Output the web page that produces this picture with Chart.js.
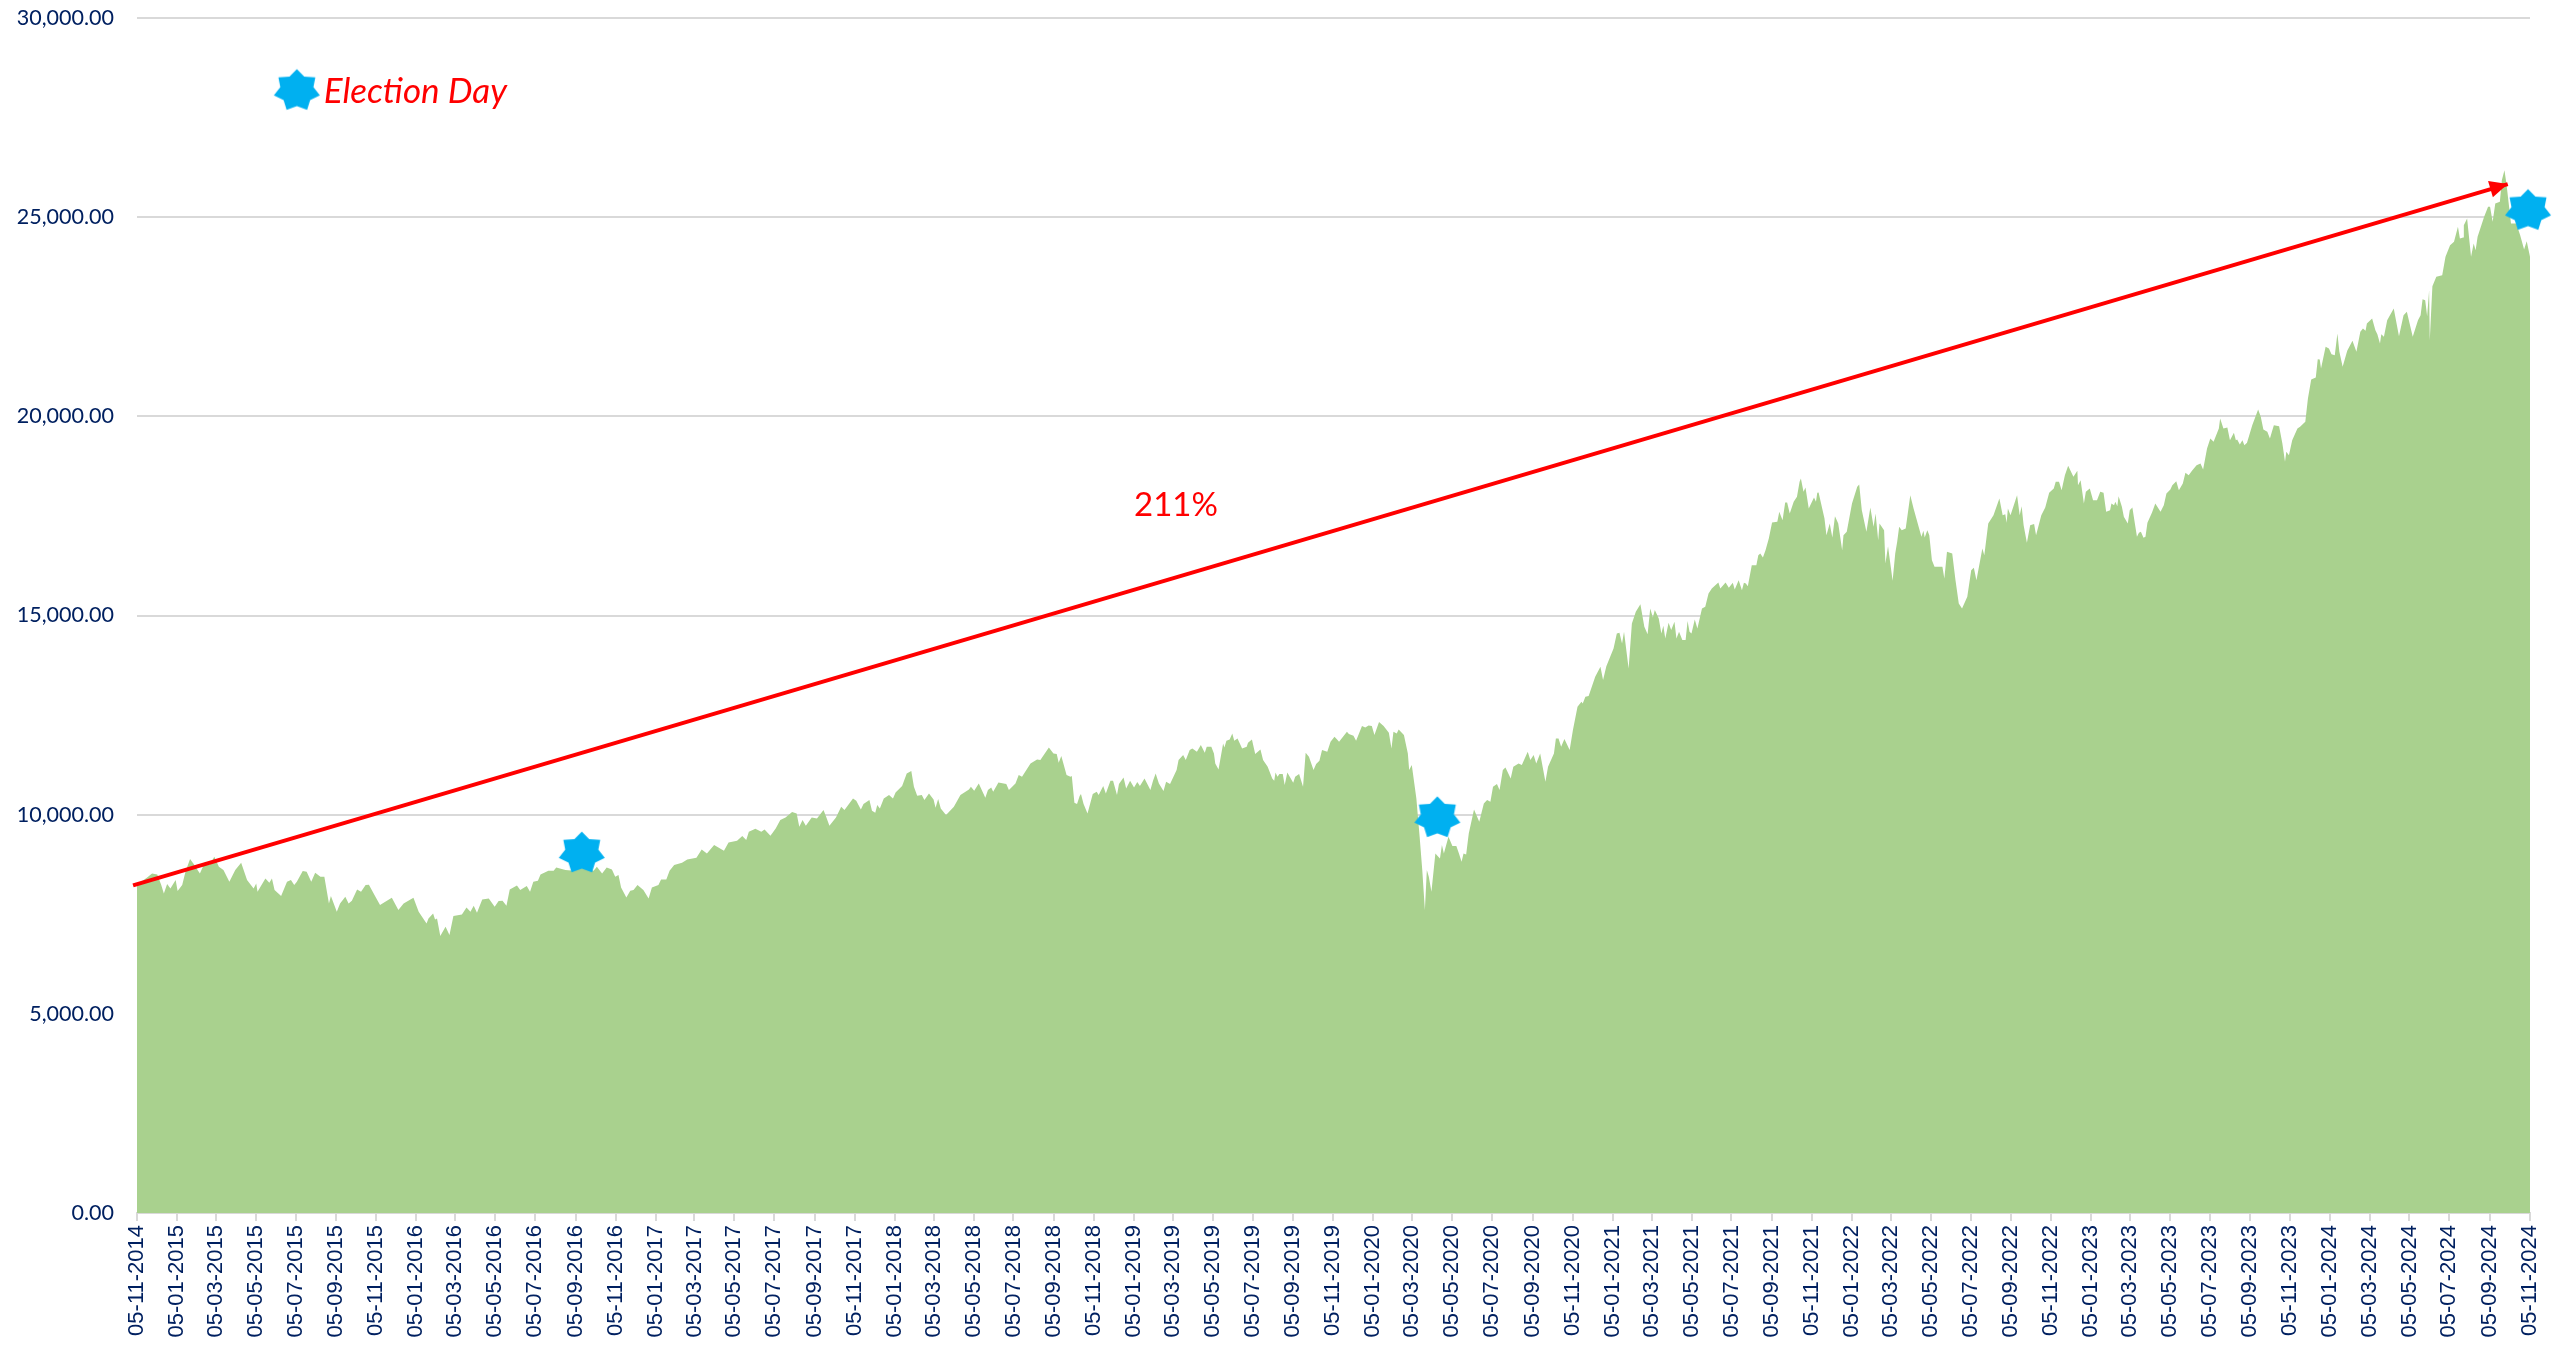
<!DOCTYPE html>
<html>
<head>
<meta charset="utf-8">
<style>html,body{margin:0;padding:0;background:#fff}canvas{display:block}</style>
<script src="https://cdn.jsdelivr.net/npm/chart.js@4/dist/chart.umd.min.js"></script>
</head>
<body>
<canvas id="c" width="2552" height="1349"></canvas>
<script>
const startDate = [2014, 10, 5];
const tickLabels = ["05-11-2014","05-01-2015","05-03-2015","05-05-2015","05-07-2015","05-09-2015","05-11-2015","05-01-2016","05-03-2016","05-05-2016","05-07-2016","05-09-2016","05-11-2016","05-01-2017","05-03-2017","05-05-2017","05-07-2017","05-09-2017","05-11-2017","05-01-2018","05-03-2018","05-05-2018","05-07-2018","05-09-2018","05-11-2018","05-01-2019","05-03-2019","05-05-2019","05-07-2019","05-09-2019","05-11-2019","05-01-2020","05-03-2020","05-05-2020","05-07-2020","05-09-2020","05-11-2020","05-01-2021","05-03-2021","05-05-2021","05-07-2021","05-09-2021","05-11-2021","05-01-2022","05-03-2022","05-05-2022","05-07-2022","05-09-2022","05-11-2022","05-01-2023","05-03-2023","05-05-2023","05-07-2023","05-09-2023","05-11-2023","05-01-2024","05-03-2024","05-05-2024","05-07-2024","05-09-2024","05-11-2024"];

// days since 05-11-2014, index value on that day
const seriesDays = [0,8,15,23,31,37,41,46,51,59,62,69,74,81,86,96,104,111,118,125,132,141,150,159,168,178,182,184,196,202,206,210,220,229,235,240,244,253,259,266,272,280,286,293,296,305,310,318,323,328,336,342,349,354,364,371,379,389,399,407,422,430,442,445,452,455,
458,463,471,477,483,496,503,509,514,519,527,537,546,552,558,564,569,580,585,595,600,605,612,616,628,636,640,654,667,679,697,702,710,717,725,730,735,739,747,753,758,764,773,781,786,796,800,808,813,820,832,840,854,862,870,881,896,903,
916,924,930,934,944,953,958,967,975,982,990,1000,1007,1011,1016,1021,1030,1038,1048,1052,1057,1067,1075,1080,1093,1098,1105,1109,1118,1122,1127,1130,1134,1140,1148,1154,1158,1168,1175,1182,1186,1191,1198,1202,1209,1216,1219,1223,1227,1235,1247,1257,1270,1273,1278,1285,1295,1299,1304,1307,1315,1327,1331,1341,1346,1351,1364,
1374,1379,1392,1399,1404,1407,1411,1419,1425,1427,1431,1435,1439,1441,1445,1451,1459,1465,1468,1475,1479,1486,1490,1496,1499,1506,1510,1516,1522,1527,1531,1538,1547,1551,1555,1560,1567,1571,1577,1587,1590,1597,1601,1607,1611,1618,1624,1630,1633,1640,1644,1646,1651,1658,1660,1663,1668,1672,1675,1680,1687,1694,1696,1702,1707,1715,1719,1726,1733,1736,1738,1741,1744,1749,1752,1756,1765,1768,1774,1780,1784,1789,1796,1800,1805,1809,1817,1822,1828,
1832,1835,1847,1850,1857,1861,1870,1875,1880,1885,1889,1896,1903,1911,1915,1918,1923,1926,1934,1940,1942,1946,1953,1958,1962,1966,1969,1972,1976,1982,1989,1992,1995,2002,2008,2014,2018,2022,2025,2029,2033,2041,2049,2056,2061,2066,2070,2076,2080,2085,2089,2097,2101,2109,2114,2123,2127,2132,2136,2142,2150,2154,2163,2166,2170,2174,2179,2187,2192,2199,2205,2207,2211,2216,2226,2234,2238,2243,2254,2259,2263,2267,2270,2277,2282,2288,
2295,2301,2306,2310,2314,2317,2323,2327,2330,2333,2338,2342,2347,2350,2354,2359,2364,2367,2370,2373,2378,2382,2389,2394,2399,2404,2414,2417,2425,2430,2436,2439,2445,2450,2453,2456,2459,2465,2472,2475,2478,2482,2486,2491,2496,2504,2507,2512,2516,2519,2523,2529,2534,2538,2540,2544,2547,2552,2560,2563,2565,2567,2576,2579,2584,2588,2592,2597,2603,2605,2610,2618,2626,2629,2633,2640,2646,2651,2654,2658,2660,2667,2669,2673,2680,2684,2687,2690,2694,2700,2707,2712,2724,2727,2729,2733,2736,2740,2744,
2751,2756,2759,2763,2771,2776,2781,2786,2794,2800,2804,2808,2817,2820,2826,2834,2843,2848,2852,2854,2856,2860,2870,2874,2877,2880,2885,2890,2896,2899,2907,2913,2919,2926,2929,2934,2938,2943,2948,2956,2962,2963,2967,2972,2975,2981,2986,2992,2997,3002,3006,3012,3014,3018,3020,3023,3025,3030,3033,3039,3042,3046,3053,3056,3059,3063,3066,3069,3076,3081,3089,3094,3098,3104,3107,3113,3117,3123,3127,3132,3137,3144,3150,3154,3160,3165,3170,3178,3180,3185,3191,3195,3201,3204,
3206,3210,3214,3217,3221,3229,3238,3242,3246,3252,3256,3259,3262,3270,3275,3279,3281,3285,3290,3298,3302,3310,3314,3319,3326,3329,3332,3334,3341,3346,3350,3355,3359,3362,3367,3374,3382,3388,3394,3398,3402,3404,3412,3417,3420,3424,3426,3430,3435,3445,3453,3460,3465,3474,3482,3486,3489,3493,3496,3499,3500,3504,3510,3519,3524,3531,3537,3543,3546,3551,3552,3557,3563,3567,3570,3573,3583,3589,3592,3596,3600,3607,3610,3614,3617,3624,3632,3638,3644,3648,3653];

const seriesValues = [8232,8333,8417,8525,8500,8232,8023,8258,8149,8358,8082,8232,8567,8885,8776,8525,8818,8734,8944,8693,8609,8316,8609,8793,8358,8149,8274,8065,8400,8291,8400,8107,7956,8316,8358,8232,8316,8584,8567,8316,8542,8442,8442,7772,7956,7563,7772,7940,7772,7839,8124,8065,8232,8241,7940,7730,7814,7914,7605,7772,7914,7563,7270,7396,7521,7371,
7396,6952,7187,6977,7454,7496,7672,7563,7714,7538,7873,7898,7689,7831,7839,7714,8124,8224,8107,8207,8065,8316,8341,8500,8592,8592,8676,8609,8592,8676,8592,8693,8525,8676,8626,8442,8483,8174,7923,8090,8107,8232,8107,7898,8174,8232,8375,8375,8592,8734,8793,8877,8918,9128,9027,9236,9094,9303,
9345,9462,9362,9571,9646,9571,9630,9471,9655,9864,9931,10065,10031,9697,9864,9722,9931,9906,10115,9948,9722,9931,10199,10115,10408,10349,10132,10266,10366,10098,10048,10240,10157,10408,10491,10408,10558,10717,11035,11094,10700,10475,10491,10366,10533,10383,10174,10391,10157,9989,10199,10491,10634,10701,10600,10784,10425,10617,10684,10575,10809,10767,10617,10784,10993,10952,11286,
11387,11370,11688,11537,11520,11303,11470,10993,10952,10968,10299,10265,10466,10517,10265,10031,10517,10575,10491,10717,10533,10851,10851,10491,10768,10935,10659,10851,10684,10818,10717,10910,10617,10851,11035,10784,10592,10826,10768,11119,11370,11495,11370,11621,11663,11579,11746,11554,11705,11705,11537,11286,11136,11788,11688,11855,11889,12039,11855,11914,11663,11705,11805,11889,11520,11638,11370,11203,10910,10851,11060,10952,11018,11018,10742,11060,10801,10952,11018,10701,11554,11453,11119,11270,11353,11621,11579,11830,11956,
11889,11830,12081,12023,11981,11855,12223,12190,12240,12223,11997,12324,12223,12056,11663,12081,12039,12140,11997,11537,11119,11244,10408,9445,8609,7605,8609,8442,8065,9027,8902,9236,9027,9445,9211,9211,9027,8818,9027,9002,9529,10132,9822,10282,10366,10324,10700,10767,10617,11119,11186,10910,11203,11286,11244,11579,11370,11495,11286,11537,10826,11203,11537,11914,11914,11705,11897,11621,12123,12709,12834,12792,12960,12976,13462,13713,13378,13729,14173,14549,14566,14298,14591,13671,14800,15093,
15285,14716,14532,15177,14951,15135,14926,14549,14742,14424,14817,14633,14842,14424,14591,14382,14382,14859,14591,14549,14901,14675,15177,15218,15553,15679,15829,15679,15829,15695,15821,15654,15888,15637,15821,15804,15737,16264,16264,16515,16557,16457,16641,16934,17335,17352,17603,17394,17837,17837,17561,17854,17980,18356,18440,18105,18214,17687,17963,17854,18080,18088,17436,17017,17310,16959,17494,17310,16641,17017,17101,17812,18231,18289,17645,17101,17712,17227,17561,16892,17310,17143,16306,16741,15871,16557,16850,17227,17143,17185,18021,17687,16976,17126,16959,17143,17017,16390,16223,
16222,16222,15930,16599,16557,15888,15302,15177,15470,16139,16197,15888,16683,16515,17310,17519,17938,17519,17544,17327,17687,17519,18021,17519,17745,17268,16825,17268,17294,17017,17519,17712,18080,18189,18356,18356,18147,18523,18758,18481,18632,18272,18398,17812,18105,18189,17896,17896,18105,18080,17603,17645,17812,17770,17854,17745,17996,17729,17477,17310,17645,17712,16975,17076,17101,16950,16975,17327,17586,17812,17603,17770,18063,18164,18272,18373,18147,18314,18582,18523,18632,18774,18816,18666,19193,19444,19360,19695,19946,19695,19720,19402,19586,19402,
19419,19293,19402,19276,19335,19778,20171,19988,19669,19611,19444,19611,19778,19753,19318,18858,19109,19025,19402,19695,19737,19862,20448,20925,20975,21435,21427,21200,21744,21703,21560,21535,22079,21619,21242,21644,21895,21619,22121,22205,22146,22330,22456,22163,22062,21828,22062,21995,22414,22707,22012,22539,22623,21995,22414,22539,22941,22916,22514,23167,21912,23267,23502,23543,24004,24296,24380,24757,24464,24489,24798,24966,24004,24338,24171,24506,25008,25259,25259,24882,25342,25384,25928,26179,25844,24840,24840,24547,24188,24397,24004];

const yTicks = [0,5000,10000,15000,20000,25000,30000];
const electionDays = [679,1985,3650];
const electionValues = [9036,9920,25165];
const legendStarDay = [244];
const legendStarValue = [28177];
const legendText = "Election Day";
const legendTextDay = 285;
const legendTextValue = 28137;
const arrowDays = [-6,3619];
const arrowValues = [8225,25830];
const gainText = "211%";
const gainDay = 1586;
const gainValue = 17760;

const toDay = s => { const [d,m,y] = s.split('-').map(Number);
  return Math.round((Date.UTC(y,m-1,d)-Date.UTC(...startDate))/864e5); };
const tickDays = tickLabels.map(toDay);
const pairs = (xs,ys) => xs.map((x,i)=>({x,y:ys[i]}));

const star = document.createElement('canvas');
star.width = 50; star.height = 50;
(function(){
  const g = star.getContext('2d'); g.fillStyle = '#00B0F0'; g.beginPath();
  for (let i=0;i<14;i++){
    const a = -Math.PI/2 + i*Math.PI/7, ro = i%2===0 ? 1 : 0.72;
    const px = 25 + 23.6*ro*Math.cos(a), py = 25 + 21.4*ro*Math.sin(a);
    i===0 ? g.moveTo(px,py) : g.lineTo(px,py);
  }
  g.closePath(); g.fill();
})();

const annotate = { id:'annotate', afterDatasetsDraw(chart){
  const {ctx, scales:{x,y}} = chart;
  const n = arrowDays.length-1;
  const x1=x.getPixelForValue(arrowDays[n]), y1=y.getPixelForValue(arrowValues[n]);
  const x0=x.getPixelForValue(arrowDays[0]), y0=y.getPixelForValue(arrowValues[0]);
  const a=Math.atan2(y1-y0,x1-x0), L=18, W=8.5;
  ctx.save();
  ctx.fillStyle='#FF0000';
  ctx.beginPath(); ctx.moveTo(x1,y1);
  ctx.lineTo(x1-L*Math.cos(a)+W*Math.sin(a), y1-L*Math.sin(a)-W*Math.cos(a));
  ctx.lineTo(x1-L*Math.cos(a)-W*Math.sin(a), y1-L*Math.sin(a)+W*Math.cos(a));
  ctx.closePath(); ctx.fill();
  ctx.textBaseline='middle'; ctx.textAlign='left';
  ctx.font='italic 35px Lato';
  ctx.fillText(legendText, x.getPixelForValue(legendTextDay), y.getPixelForValue(legendTextValue));
  ctx.textAlign='center';
  ctx.font='33px Lato';
  ctx.fillText(gainText, x.getPixelForValue(gainDay), y.getPixelForValue(gainValue));
  ctx.restore();
}};

new Chart(document.getElementById('c'), {
  type:'line',
  plugins:[annotate],
  data:{datasets:[
    {label:'Stars', order:1, data:pairs(electionDays,electionValues).concat(pairs(legendStarDay,legendStarValue)),
     showLine:false, pointStyle:star, pointRadius:25, clip:false},
    {label:'Gain', order:2, data:pairs(arrowDays,arrowValues), borderColor:'#FF0000', borderWidth:4,
     pointRadius:0, fill:false, tension:0, clip:false},
    {label:'Index', order:3, data:pairs(seriesDays,seriesValues), backgroundColor:'#A9D18E', borderWidth:0,
     borderColor:'#A9D18E', pointRadius:0, fill:'origin', tension:0}
  ]},
  options:{
    responsive:false, animation:false, events:[],
    layout:{autoPadding:false, padding:{top:18,right:22,left:0,bottom:0}},
    plugins:{legend:{display:false},tooltip:{enabled:false},title:{display:false}},
    scales:{
      x:{type:'linear', min:0, max:tickDays[tickDays.length-1],
        afterBuildTicks(s){ s.ticks = tickDays.map(v=>({value:v})); },
        afterFit(s){ s.height = 136; s.paddingLeft = 0; s.paddingRight = 0; },
        grid:{drawOnChartArea:false, drawTicks:true, tickLength:8, color:'#D9D9D9', lineWidth:2},
        border:{display:true,color:'#D9D9D9',width:2},
        ticks:{autoSkip:false, maxRotation:90, minRotation:90, padding:4, color:'#002060',
          font:{family:'Liberation Sans',size:22}, callback:(v,i)=>tickLabels[i]}
      },
      y:{min:0,max:30000,
        afterBuildTicks(s){ s.ticks = yTicks.map(v=>({value:v})); },
        afterFit(s){ s.width = 137; s.paddingTop = 0; s.paddingBottom = 0; },
        grid:{color:'#D9D9D9', lineWidth:2, drawTicks:false},
        border:{display:false},
        ticks:{padding:23, color:'#002060', font:{family:'Lato',size:21.5},
          callback:v=>v.toLocaleString('en-US',{minimumFractionDigits:2,maximumFractionDigits:2})}
      }
    }
  }
});
</script>
</body>
</html>
